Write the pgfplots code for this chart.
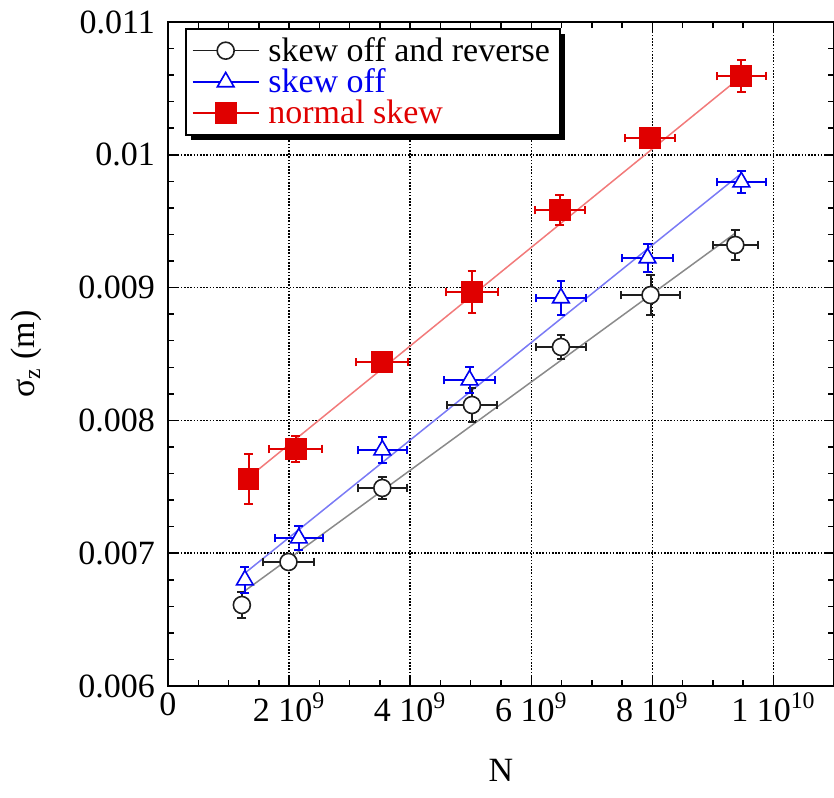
\documentclass[border=0pt]{standalone}
\usepackage{fontspec}
\setmainfont{Liberation Serif}
\usepackage{pgfplots}
\pgfplotsset{compat=1.18}
\usetikzlibrary{shadows}

\definecolor{cRed}{HTML}{E00000}
\definecolor{cBlue}{HTML}{0000F0}
\definecolor{cBlack}{HTML}{1E1E1E}
\definecolor{fRed}{HTML}{F27A7A}
\definecolor{fBlue}{HTML}{7A7AF5}
\definecolor{fBlack}{HTML}{8A8A8A}

\newcommand{\fs}{\fontsize{17}{19}\selectfont}

% the legend's drop shadow must not be copied onto the sample lines
\makeatletter
\tikzset{no preaction/.code={\let\tikz@preactions\pgfutil@empty}}
\makeatother

\pgfplotsset{
  % legend sample: short line with the marker in its middle
  lgimg/.style 2 args={legend image code/.code={%
    \draw[no preaction, #1, line width=0.7pt] (0pt,0pt) -- (33pt,0pt);
    \draw[no preaction, #1] plot[only marks, #2] coordinates {(16.5pt,0pt)};}},
  ebars/.style={error bars/.cd, x dir=both, x explicit, y dir=both, y explicit,
    error bar style={line width=1pt, #1},
    error mark options={rotate=90, mark size=2.2pt, line width=1pt, #1}},
}

\begin{document}
\begin{tikzpicture}
\useasboundingbox (-84pt,-55.5pt) rectangle (333pt,343pt);
\begin{axis}[
  scale only axis, width=333pt, height=332pt,
  xmin=0, xmax=1.1e10, ymin=0.006, ymax=0.011,
  xtick={0,2e9,4e9,6e9,8e9,1e10},
  xticklabels={0, 2 10\textsuperscript{9}, 4 10\textsuperscript{9}, 6 10\textsuperscript{9}, 8 10\textsuperscript{9}, 1 10\textsuperscript{10}},
  ytick={0.006,0.007,0.008,0.009,0.01,0.011},
  yticklabels={0.006,0.007,0.008,0.009,0.01,0.011},
  scaled ticks=false,
  minor x tick num=3, minor y tick num=4,
  tick align=inside, major tick length=5pt, minor tick length=3pt,
  every tick/.style={black, line width=0.75pt},
  axis line style={line width=1pt},
  xmajorgrids, ymajorgrids,
  grid style={black, line width=0.75pt, dash pattern=on 0.8pt off 0.8pt},
  tick label style={font=\fs},
  yticklabel style={xshift=-3pt},
  xlabel={N}, ylabel={σ\textsubscript{z} (m)},
  label style={font=\fs},
  xlabel style={at={(axis description cs:0.5,-0.1265)}, anchor=center},
  ylabel style={at={(axis description cs:-0.212,0.5)}, anchor=center},
  legend cell align=left,
  legend style={at={(axis description cs:0.0255,0.991)}, anchor=north west,
    font=\fs, draw=black, line width=1pt, fill=white, column sep=2.5pt,
    inner xsep=3pt, inner ysep=3pt, nodes={inner xsep=2pt, inner ysep=1.1pt},
    drop shadow={shadow xshift=2.5pt, shadow yshift=-2.5pt, fill=black, opacity=1}},
]
  % fit lines
  \addplot[fBlack, line width=0.75pt, forget plot] coordinates {(1.22e9,0.00670) (9.37e9,0.00941)};
  \addplot[fBlue, line width=0.75pt, forget plot] coordinates {(1.27e9,0.00685) (9.47e9,0.00986)};
  \addplot[fRed, line width=0.75pt, forget plot] coordinates {(1.33e9,0.00757) (9.47e9,0.01059)};

  % skew off and reverse
  \addplot[cBlack, only marks, mark=*, mark size=4.25pt,
    mark options={fill=white, draw=cBlack, line width=0.8pt},
    lgimg={cBlack}{mark=*, mark size=4.25pt, mark options={fill=white, draw=cBlack, line width=0.8pt}},
    ebars=cBlack]
    coordinates {
      (1.22e9,0.006610) +- (0.05e9,0.00010)
      (1.99e9,0.006934) +- (0.42e9,0.00005)
      (3.54e9,0.007491) +- (0.40e9,0.00008)
      (5.02e9,0.008116) +- (0.42e9,0.00013)
      (6.49e9,0.008553) +- (0.42e9,0.00009)
      (7.97e9,0.008944) +- (0.48e9,0.00015)
      (9.37e9,0.009321) +- (0.37e9,0.00011)
    };
  \addlegendentry{skew off and reverse}

  % skew off
  \addplot[cBlue, only marks, mark=triangle*, mark size=4.8pt,
    mark options={fill=white, draw=cBlue, line width=0.8pt},
    lgimg={cBlue}{mark=triangle*, mark size=4.8pt, mark options={fill=white, draw=cBlue, line width=0.8pt}},
    ebars=cBlue]
    coordinates {
      (1.27e9,0.006798) +- (0.05e9,0.00010)
      (2.16e9,0.007114) +- (0.40e9,0.00009)
      (3.54e9,0.007777) +- (0.41e9,0.00010)
      (4.98e9,0.008304) +- (0.42e9,0.00010)
      (6.49e9,0.008922) +- (0.42e9,0.00013)
      (7.92e9,0.009223) +- (0.42e9,0.000105)
      (9.47e9,0.009795) +- (0.41e9,0.00008)
    };
  \addlegendentry[text=cBlue]{skew off}

  % normal skew
  \addplot[cRed, only marks, mark=square*, mark size=5.2pt,
    mark options={fill=cRed, draw=cRed, line width=0.5pt},
    lgimg={cRed}{mark=square*, mark size=5.2pt, mark options={fill=cRed, draw=cRed, line width=0.5pt}},
    ebars=cRed]
    coordinates {
      (1.33e9,0.007559) +- (0.05e9,0.00019)
      (2.11e9,0.007785) +- (0.44e9,0.00010)
      (3.53e9,0.008440) +- (0.43e9,0.00005)
      (5.02e9,0.008967) +- (0.43e9,0.000155)
      (6.47e9,0.009584) +- (0.41e9,0.00011)
      (7.96e9,0.010127) +- (0.42e9,0.00004)
      (9.47e9,0.010593) +- (0.41e9,0.00012)
    };
  \addlegendentry[text=cRed]{normal skew}
\end{axis}
\end{tikzpicture}
\end{document}
